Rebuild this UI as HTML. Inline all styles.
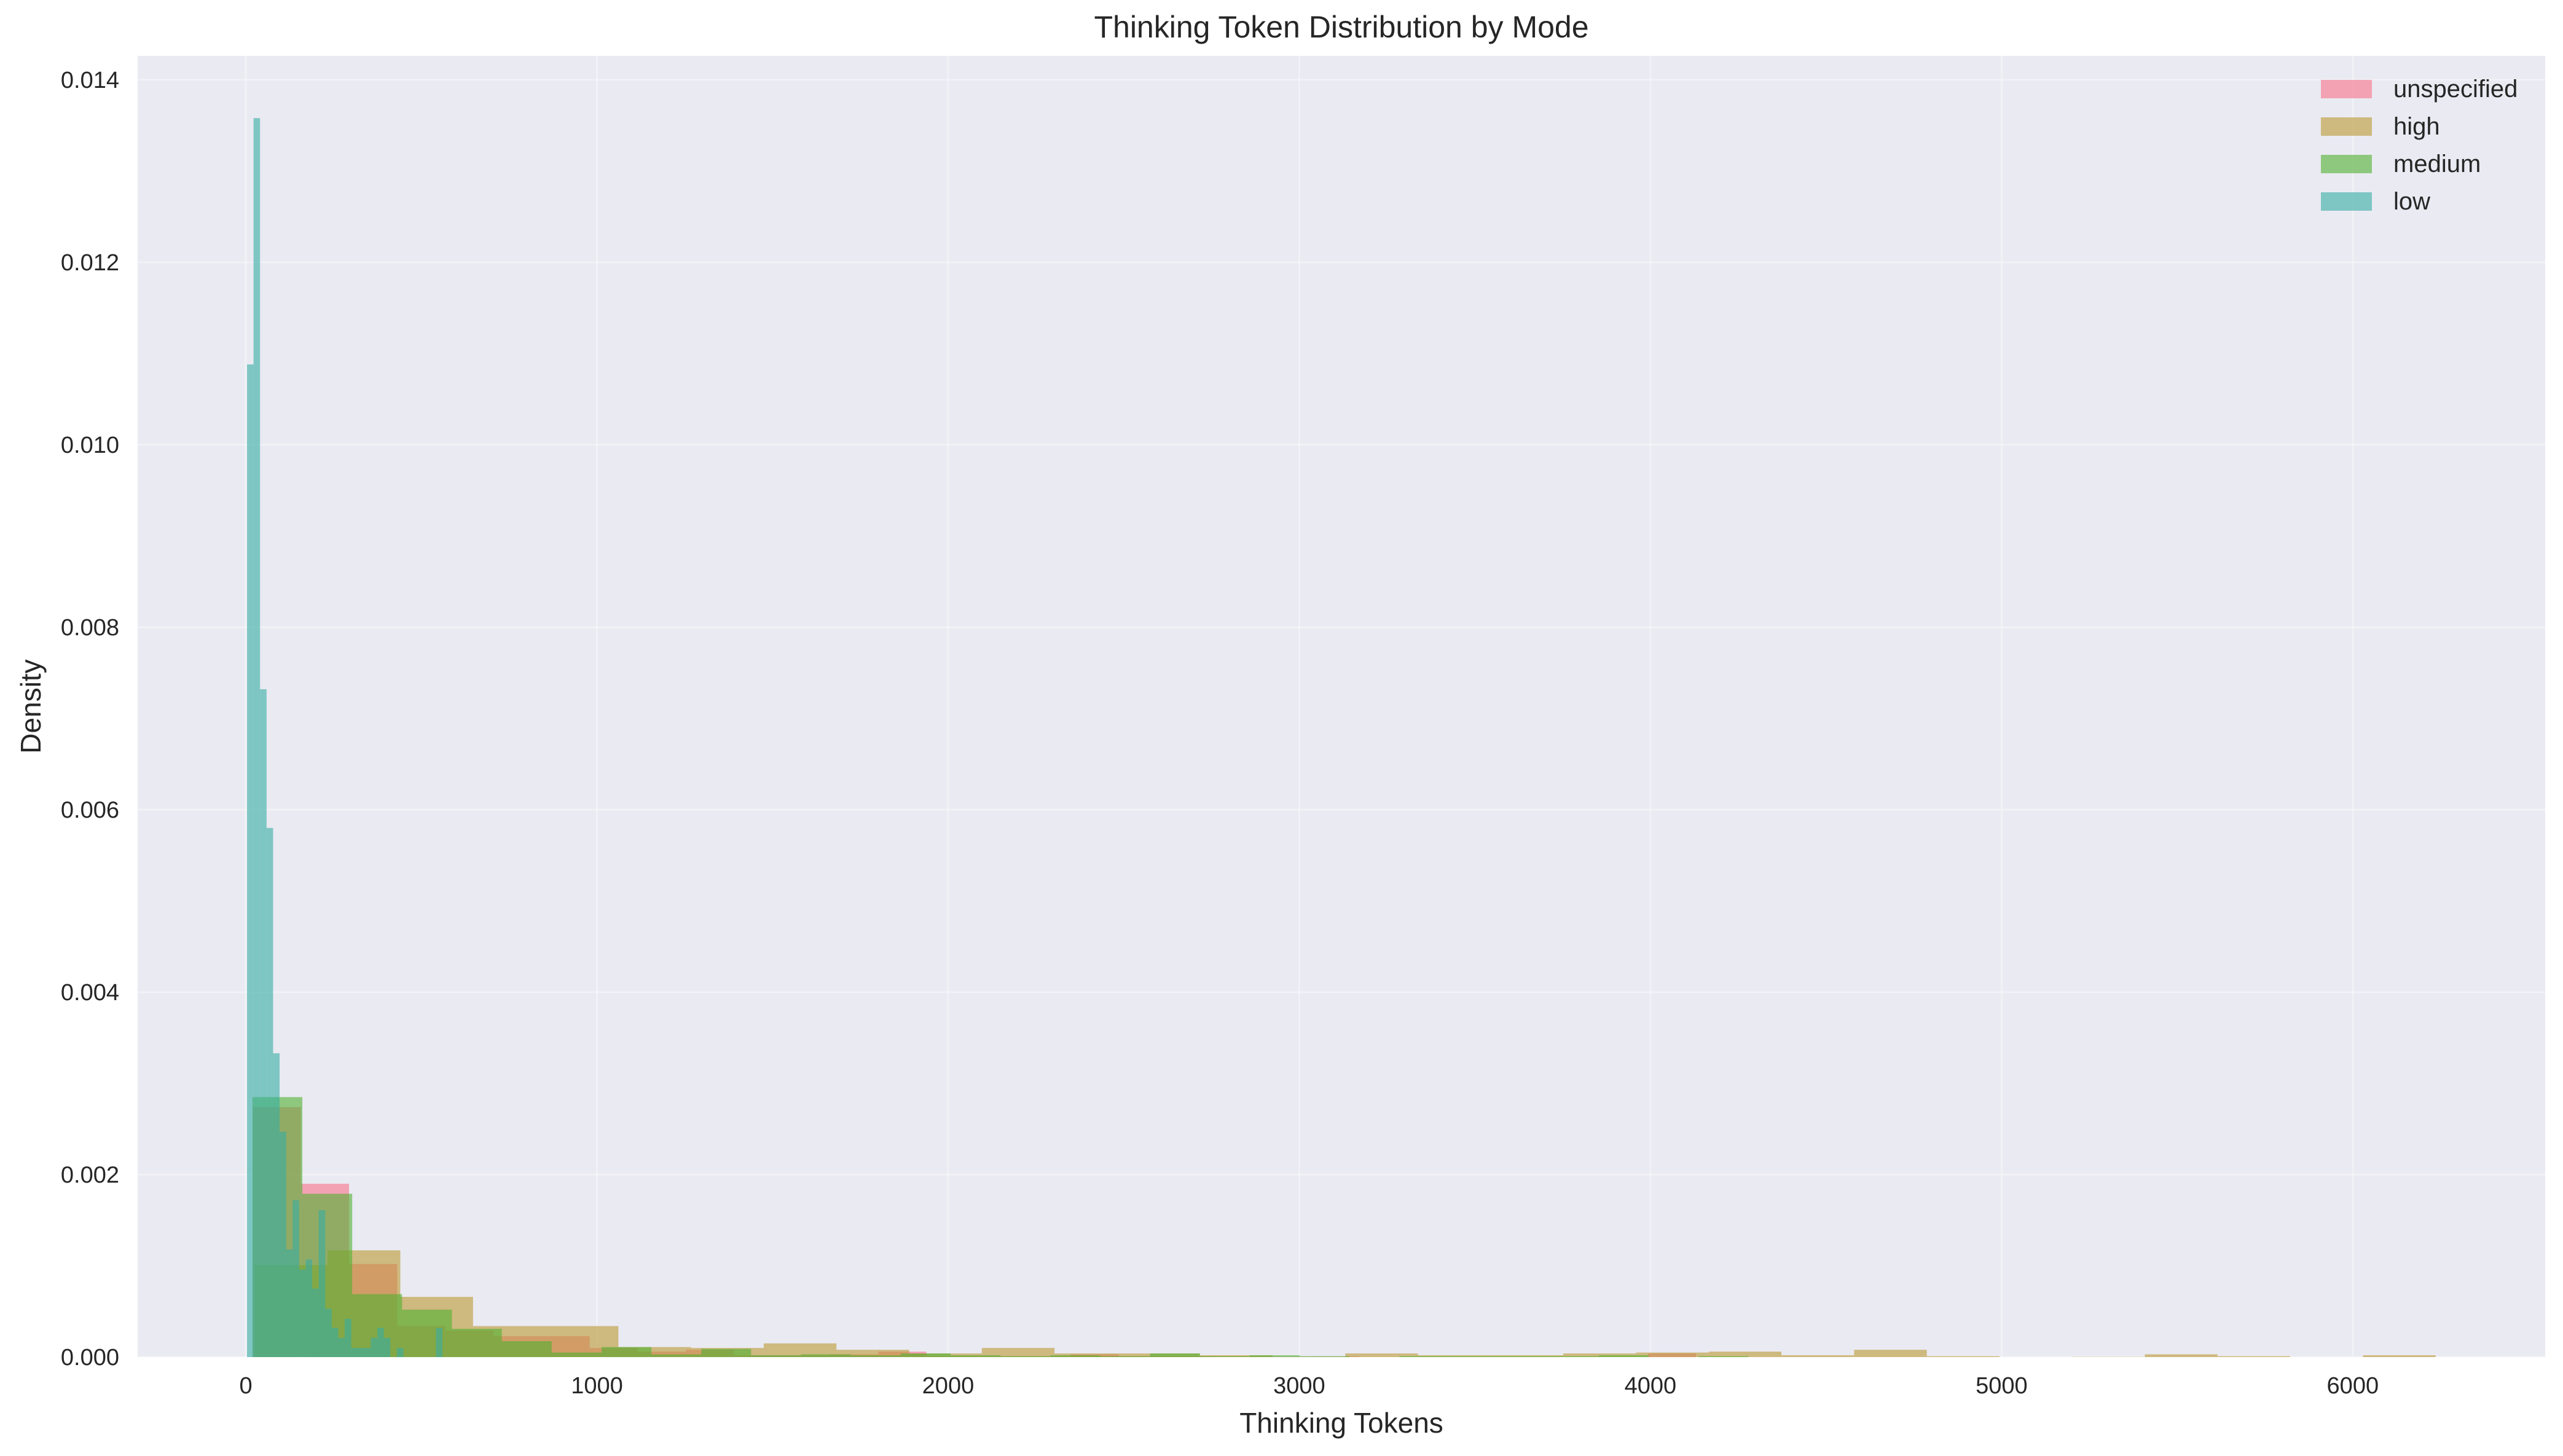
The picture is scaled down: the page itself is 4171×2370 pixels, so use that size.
<!DOCTYPE html>
<html><head><meta charset="utf-8"><style>
html,body{margin:0;padding:0;background:#fff;}
svg{display:block;font-family:"Liberation Sans",Arial,sans-serif;}
</style></head><body>
<svg id="chart" width="4171" height="2370" viewBox="0 0 4171 2370" xmlns="http://www.w3.org/2000/svg">
<rect x="224" y="91" width="3918" height="2118" fill="#eaeaf2"/>
<g id="grid"></g>
<g id="bars"></g>
<g id="ticks"></g>
<text x="2183" y="61" font-size="50" text-anchor="middle" fill="#262626">Thinking Token Distribution by Mode</text>
<text x="2183" y="2332" font-size="46" text-anchor="middle" fill="#262626">Thinking Tokens</text>
<text x="0" y="0" font-size="46" text-anchor="middle" fill="#262626" transform="translate(66,1150) rotate(-90)">Density</text>
<g id="legend"></g>
</svg>
<script>
const seriesNames = ["unspecified","high","medium","low"];
const seriesColors = ["#f77189","#bb9832","#50b131","#36ada4"];
const binStarts = [20, 26, 19, 3.5];
const binWidths = [137, 207, 142, 18.55];
const unspecifiedValues = [0.00274,0.0019,0.00102,0.00034,0.00029,0.00023,0.00023,0.0001,0.00006,0.00008,0.00002,0.00002,0.00003,0.00006,0.00001,0.00001,0.00001,0.00003,0.00001,0.00001,0.000005,0.000005,0.000007,0,0,0,0,0,0,0.00004];
const highValues = [0.00101,0.00117,0.00066,0.00034,0.00034,0.00011,0.0001,0.00015,0.00008,0.00004,0.0001,0.00004,0.00004,0.00002,0,0.00004,0.00002,0.00002,0.00004,0.00005,0.00006,0.00002,0.00008,0.00001,0,0.000002,0.00003,0.00001,0,0.00002];
const mediumValues = [0.00285,0.00179,0.00069,0.00052,0.00031,0.000175,0.00005,0.00011,0.00003,0.00009,0.00002,0.00003,0.00002,0.00004,0.00002,0.00001,0.00002,0.00001,0.00004,0.00001,0.00002,0.00001,0,0.00001,0.00001,0.00001,0.00001,0.00002,0,0.00001];
const lowValues = [0.01088,0.01358,0.00732,0.0058,0.00333,0.00247,0.00118,0.00172,0.00096,0.00107,0.00075,0.00161,0.00053,0.00032,0.00021,0.00042,0.0001,0.0001,0.0001,0.00021,0.00032,0.00021,0,0.0001,0,0,0,0,0,0.00032];
const xTicks = [0,1000,2000,3000,4000,5000,6000];
const yTicks = [0,0.002,0.004,0.006,0.008,0.010,0.012,0.014];
const yTickLabels = ["0.000","0.002","0.004","0.006","0.008","0.010","0.012","0.014"];

const allValues = [unspecifiedValues, highValues, mediumValues, lowValues];
const NS = "http://www.w3.org/2000/svg";
const PL = 224, PR = 4142, PT = 91, PB = 2209;
const xMin = -308, xMax = 6548, yMax = 0.014262;
function sx(v){ return PL + (v - xMin) / (xMax - xMin) * (PR - PL); }
function sy(v){ return PB - v / yMax * (PB - PT); }
function mk(tag, attrs, parent){ const e = document.createElementNS(NS, tag); for (const k in attrs) e.setAttribute(k, attrs[k]); parent.appendChild(e); return e; }

const grid = document.getElementById('grid');
const ticks = document.getElementById('ticks');
xTicks.forEach(t => {
  const l = mk('line', {x1: sx(t), x2: sx(t), y1: PT, y2: PB, stroke: '#ffffff', 'stroke-width': 3, 'stroke-opacity': 0.35}, grid);
  
  
  const tx = mk('text', {x: sx(t), y: 2268, 'font-size': 38, 'text-anchor': 'middle', fill: '#262626'}, ticks);
  tx.textContent = t;
  
  
});
yTicks.forEach((t, i) => {
  const l = mk('line', {x1: PL, x2: PR, y1: sy(t), y2: sy(t), stroke: '#ffffff', 'stroke-width': 3, 'stroke-opacity': 0.35}, grid);
  
  
  const tx = mk('text', {x: 194, y: sy(t) + 13, 'font-size': 38, 'text-anchor': 'end', fill: '#262626'}, ticks);
  tx.textContent = yTickLabels[i];
  
  
});

const bars = document.getElementById('bars');
allValues.forEach((vals, s) => {
  const g = mk('g', {}, bars);
  
  
  vals.forEach((v, k) => {
    if (v <= 0) return;
    const x0 = sx(binStarts[s] + k * binWidths[s]);
    const x1 = sx(binStarts[s] + (k + 1) * binWidths[s]);
    const r = mk('rect', {x: x0, y: sy(v), width: x1 - x0, height: PB - sy(v), fill: seriesColors[s], 'fill-opacity': 0.6}, g);
    
    
  });
});

const legend = document.getElementById('legend');
seriesNames.forEach((n, i) => {
  const y = 130 + i * 61;
  const r = mk('rect', {x: 3777, y: y, width: 83, height: 30, fill: seriesColors[i], 'fill-opacity': 0.6}, legend);
  
  
  const t = mk('text', {x: 3895, y: y + 28, 'font-size': 40, fill: '#262626'}, legend);
  t.textContent = n;
  
  
});
</script>
</body></html>
